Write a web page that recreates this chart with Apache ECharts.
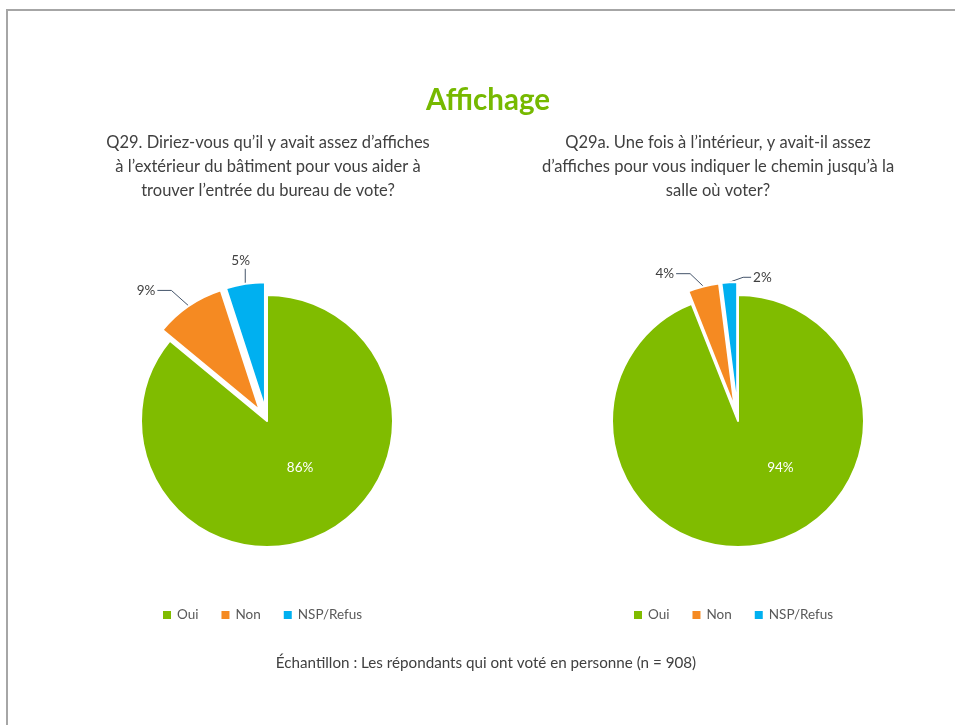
<!DOCTYPE html>
<html>
<head>
<meta charset="utf-8">
<script src="https://cdn.jsdelivr.net/npm/echarts@6/dist/echarts.min.js"></script>
<style>
  html, body { margin: 0; padding: 0; background: #fff; }
  #main { width: 955px; height: 725px; }
</style>
</head>
<body>
<div id="main"></div>
<script>
var categories = ['Oui', 'Non', 'NSP/Refus'];
var colors = ['#80bc00', '#f58a22', '#00b0f0'];
var q29Values = [86, 9, 5];
var q29aValues = [94, 4, 2];

var textColor = '#404040';
var fontFamily = 'Lato, "Open Sans", sans-serif';

// nudges for the labels away from where ECharts puts them
var labelNudges = [
  [[5, -13], [-10, -9], [25, -15]],
  [[30, -18], [18, -17], [62, 3]]
];

function buildData(values) {
  return categories.map(function (name, i) {
    var item = { name: name, value: values[i], itemStyle: { color: colors[i] } };
    if (i === 0) {
      item.label = { position: 'inside', color: '#fff' };
      item.labelLine = { show: false };
    } else {
      item.selected = true;
    }
    return item;
  });
}

// rebuild the leader line from the slice edge point to the moved label
function guideTo(p0, r) {
  var cx = r.x + r.width / 2, cy = r.y + r.height / 2;
  if (Math.abs(cx - p0[0]) < r.width / 2) {
    var top = [p0[0], r.y + r.height + 1];
    return [p0, top, top];
  }
  var left = cx < p0[0];
  var e = [left ? r.x + r.width + 2 : r.x - 2, cy];
  var b = [e[0] + (left ? 14 : -8), cy];
  return [p0, b, e];
}

var pieBase = {
  type: 'pie',
  radius: 126,
  startAngle: 90,
  selectedMode: 'multiple',
  selectedOffset: 13,
  animation: false,
  itemStyle: { borderColor: '#fff', borderWidth: 2 },
  label: {
    formatter: '{c}%',
    color: textColor,
    fontSize: 13.5,
    fontFamily: fontFamily
  },
  labelLine: {
    length: 8,
    length2: 14,
    lineStyle: { color: '#44546a', width: 1 }
  },
  labelLayout: function (params) {
    var d = labelNudges[params.seriesIndex][params.dataIndex];
    var out = { dx: d[0], dy: d[1] };
    if (params.labelLinePoints && params.dataIndex > 0) {
      var r = params.labelRect;
      out.labelLinePoints = guideTo(params.labelLinePoints[0], {
        x: r.x + d[0], y: r.y + d[1], width: r.width, height: r.height
      });
    }
    return out;
  },
  emphasis: { disabled: true }
};

var legendBase = {
  data: categories,
  top: 603,
  itemWidth: 10,
  itemHeight: 10,
  itemGap: 21,
  icon: 'rect',
  selectedMode: false,
  textStyle: { color: '#595959', fontSize: 13.5, fontFamily: fontFamily }
};

var subStyle = { color: textColor, fontSize: 16.5, fontWeight: 'normal', lineHeight: 24, fontFamily: fontFamily, align: 'center' };

var option = {
  backgroundColor: '#fff',
  color: colors,
  title: [
    {
      text: 'Affichage',
      left: 483, top: 80, textAlign: 'center',
      textStyle: { color: '#76b900', fontSize: 29.5, fontWeight: 'bold', fontFamily: fontFamily }
    },
    {
      text: 'Q29. Diriez-vous qu\u2019il y avait assez d\u2019affiches\n\u00e0 l\u2019ext\u00e9rieur du b\u00e2timent pour vous aider \u00e0\ntrouver l\u2019entr\u00e9e du bureau de vote?',
      left: 263, top: 126, textAlign: 'center',
      textStyle: subStyle
    },
    {
      text: 'Q29a. Une fois \u00e0 l\u2019int\u00e9rieur, y avait-il assez\nd\u2019affiches pour vous indiquer le chemin jusqu\u2019\u00e0 la\nsalle o\u00f9 voter?',
      left: 713, top: 126, textAlign: 'center',
      textStyle: subStyle
    },
    {
      text: '\u00c9chantillon : Les r\u00e9pondants qui ont vot\u00e9 en personne (n = 908)',
      left: 481, top: 651, textAlign: 'center',
      textStyle: { color: textColor, fontSize: 15.2, fontWeight: 'normal', fontFamily: fontFamily }
    }
  ],
  legend: [
    Object.assign({ left: 156 }, legendBase),
    Object.assign({ left: 627 }, legendBase)
  ],
  graphic: [
    { type: 'line', shape: { x1: 7, y1: 10, x2: 955, y2: 10 }, style: { stroke: '#a6a6a6', lineWidth: 2 } },
    { type: 'line', shape: { x1: 7, y1: 9, x2: 7, y2: 725 }, style: { stroke: '#a6a6a6', lineWidth: 2 } }
  ],
  series: [
    Object.assign({}, pieBase, { name: 'Q29', center: [267, 421], data: buildData(q29Values) }),
    Object.assign({}, pieBase, { name: 'Q29a', center: [738, 421], data: buildData(q29aValues) })
  ]
};

var chart = echarts.init(document.getElementById('main'));
chart.setOption(option);
</script>
</body>
</html>
